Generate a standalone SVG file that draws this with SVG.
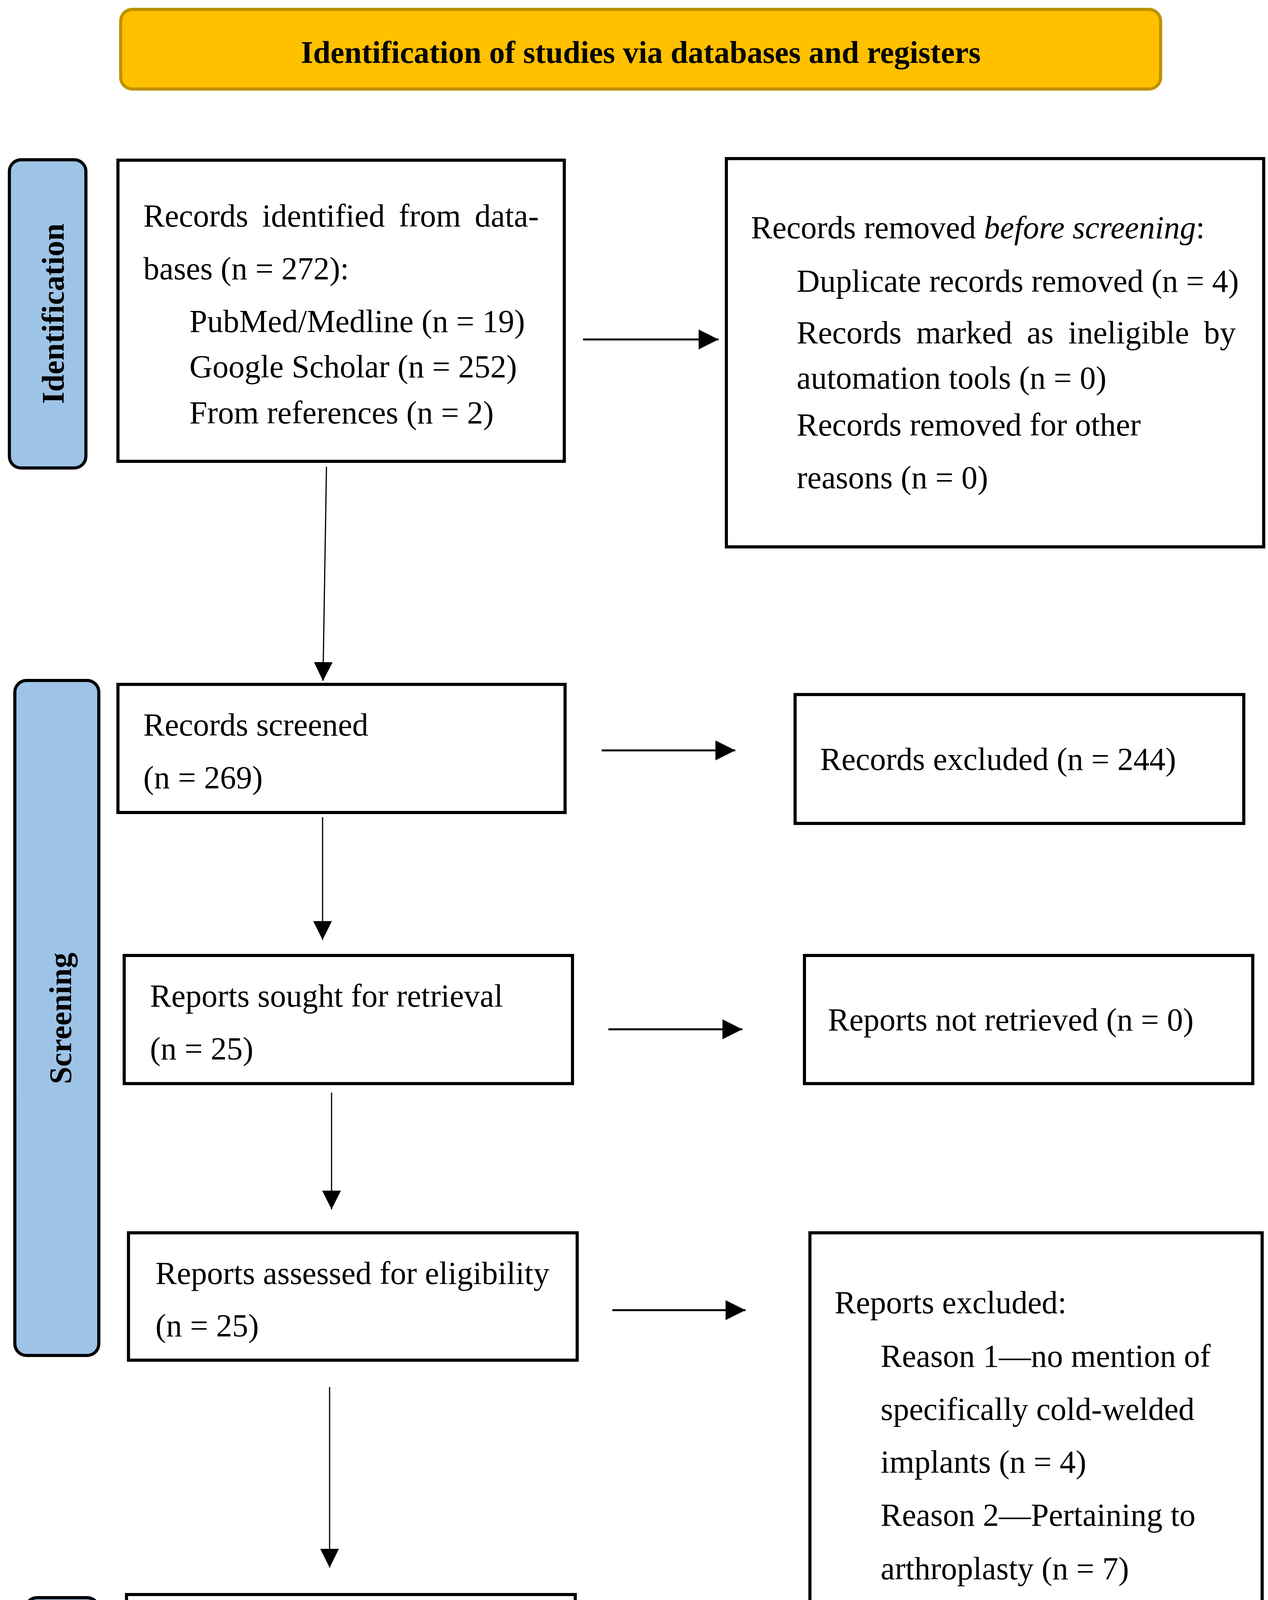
<svg xmlns="http://www.w3.org/2000/svg" width="3247" height="4591" viewBox="0 0 3247 4591">
<style>
.box{fill:#ffffff;stroke:#000000;stroke-width:8}
.side{fill:#9DC3E6;stroke:#000000;stroke-width:8}
.t{font-family:"Liberation Serif","Times New Roman",serif;font-size:82px;fill:#000000}
.lab{font-family:"Liberation Serif","Times New Roman",serif;font-size:80px;font-weight:bold;fill:#000000;text-anchor:middle}
.hl{stroke:#000000;stroke-width:5;fill:none}
.vl{stroke:#000000;stroke-width:3;fill:none}
</style>
<defs>
<marker id="ah" markerUnits="userSpaceOnUse" markerWidth="51" markerHeight="51" viewBox="0 0 51 51" refX="51" refY="25.5" orient="auto">
<path d="M0,0 L51,25.5 L0,51 Z" fill="#000000"/>
</marker>
<marker id="av" markerUnits="userSpaceOnUse" markerWidth="48" markerHeight="48" viewBox="0 0 48 48" refX="48" refY="24" orient="auto">
<path d="M0,0 L48,24 L0,48 Z" fill="#000000"/>
</marker>
</defs>
<rect width="3247" height="4591" fill="#ffffff"/>

<g id="title">
<rect x="309" y="24" width="2663" height="204" rx="30" ry="30" fill="#FFC000" stroke="#BF9000" stroke-width="8"/>
<text class="lab" x="1641" y="161">Identification of studies via databases and registers</text>
</g>

<g id="label-identification">
<rect class="side" x="24" y="409" width="196" height="789" rx="30" ry="30"/>
<text class="lab" transform="translate(163,803) rotate(-90)">Identification</text>
</g>

<g id="label-screening">
<rect class="side" x="38" y="1742" width="215" height="1728" rx="30" ry="30"/>
<text class="lab" transform="translate(182,2607) rotate(-90)">Screening</text>
</g>

<g id="label-included">
<rect class="side" x="65" y="4090" width="188" height="473" rx="30" ry="30"/>
<text class="lab" transform="translate(204,4325) rotate(-90)">Included</text>
</g>

<g id="records-identified">
<rect class="box" x="302" y="410" width="1143" height="771"/>
<text class="t" x="367" y="580" word-spacing="15">Records identified from data-</text>
<text class="t" x="367" y="715">bases (n = 272):</text>
<text class="t" x="485" y="850">PubMed/Medline (n = 19)</text>
<text class="t" x="485" y="966">Google Scholar (n = 252)</text>
<text class="t" x="485" y="1084">From references (n = 2)</text>
</g>

<g id="records-removed">
<rect class="box" x="1860" y="406" width="1376" height="994"/>
<text class="t" x="1923" y="610">Records removed <tspan font-style="italic">before screening</tspan>:</text>
<text class="t" x="2040" y="747">Duplicate records removed (n = 4)</text>
<text class="t" x="2040" y="879" word-spacing="17">Records marked as ineligible by</text>
<text class="t" x="2040" y="995">automation tools (n = 0)</text>
<text class="t" x="2040" y="1115">Records removed for other</text>
<text class="t" x="2040" y="1250">reasons (n = 0)</text>
</g>

<g id="records-screened">
<rect class="box" x="302" y="1752" width="1145" height="328"/>
<text class="t" x="367" y="1883">Records screened</text>
<text class="t" x="367" y="2018">(n = 269)</text>
</g>

<g id="records-excluded">
<rect class="box" x="2036" y="1778" width="1149" height="330"/>
<text class="t" x="2100" y="1971">Records excluded (n = 244)</text>
</g>

<g id="reports-sought">
<rect class="box" x="318" y="2446" width="1148" height="328"/>
<text class="t" x="384" y="2577">Reports sought for retrieval</text>
<text class="t" x="384" y="2712">(n = 25)</text>
</g>

<g id="reports-not-retrieved">
<rect class="box" x="2060" y="2446" width="1148" height="328"/>
<text class="t" x="2120" y="2638">Reports not retrieved (n = 0)</text>
</g>

<g id="reports-assessed">
<rect class="box" x="329" y="3156" width="1149" height="326"/>
<text class="t" x="398" y="3287">Reports assessed for eligibility</text>
<text class="t" x="398" y="3421">(n = 25)</text>
</g>

<g id="reports-excluded">
<rect class="box" x="2074" y="3156" width="1158" height="1038"/>
<text class="t" x="2137" y="3362">Reports excluded:</text>
<text class="t" x="2255" y="3499">Reason 1—no mention of</text>
<text class="t" x="2255" y="3635">specifically cold-welded</text>
<text class="t" x="2255" y="3770">implants (n = 4)</text>
<text class="t" x="2255" y="3906">Reason 2—Pertaining to</text>
<text class="t" x="2255" y="4043">arthroplasty (n = 7)</text>
</g>

<g id="studies-included">
<rect class="box" x="324" y="4082" width="1149" height="449"/>
<text class="t" x="390" y="4268">Studies included in review</text>
<text class="t" x="390" y="4403">(n = 14)</text>
</g>

<g id="connectors">
<line class="hl" x1="1493" y1="869" x2="1840" y2="869" marker-end="url(#ah)"/>
<line class="hl" x1="1541" y1="1921" x2="1883" y2="1921" marker-end="url(#ah)"/>
<line class="hl" x1="1558" y1="2635" x2="1901" y2="2635" marker-end="url(#ah)"/>
<line class="hl" x1="1568" y1="3354" x2="1909" y2="3354" marker-end="url(#ah)"/>
<line class="vl" x1="836" y1="1195" x2="827" y2="1743" marker-end="url(#av)"/>
<line class="vl" x1="826" y1="2092" x2="826" y2="2406" marker-end="url(#av)"/>
<line class="vl" x1="849" y1="2797" x2="849" y2="3096" marker-end="url(#av)"/>
<line class="vl" x1="844" y1="3551" x2="844" y2="4013" marker-end="url(#av)"/>
</g>
</svg>
